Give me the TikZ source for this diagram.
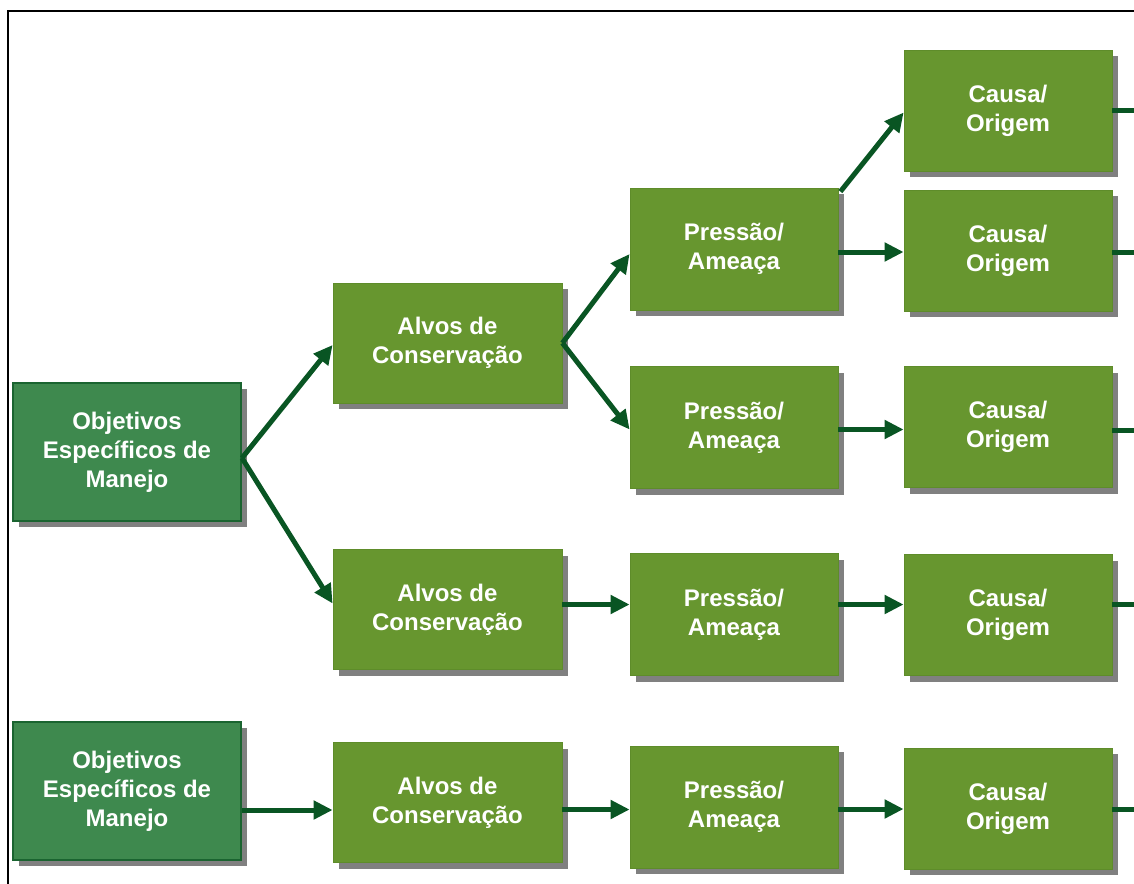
\documentclass[tikz,border=0pt]{standalone}
\usepackage{fontspec}
\setmainfont{Liberation Sans}
\usetikzlibrary{arrows.meta,shadows}
\definecolor{boxgreen}{HTML}{67962F}
\definecolor{boxedge}{HTML}{5E8C2A}
\definecolor{objgreen}{HTML}{3E894E}
\definecolor{objedge}{HTML}{1A6430}
\definecolor{arrowgreen}{HTML}{095523}
\definecolor{shadowgray}{HTML}{808080}
\tikzset{
  basebox/.style={rectangle, text=white, align=center, inner sep=0pt,
    font=\bfseries\fontsize{24}{29}\selectfont,
    drop shadow={shadow xshift=6pt, shadow yshift=-6pt, fill=shadowgray, opacity=1}},
  lbox/.style={basebox, fill=boxgreen, draw=boxedge, line width=0.8pt},
  objbox/.style={basebox, fill=objgreen, draw=objedge, line width=2pt,
    minimum width=228pt, minimum height=138pt},
  alvobox/.style={lbox, minimum width=229pt, minimum height=120pt},
  pbox/.style={lbox, minimum width=208pt, minimum height=122pt},
  cbox/.style={lbox, minimum width=208pt, minimum height=121pt},
  arr/.style={draw=arrowgreen, line width=5pt, -{Triangle[length=19pt,width=18pt]}},
  plainline/.style={draw=arrowgreen, line width=5pt},
  frameline/.style={draw=black, line width=2pt}
}
\begin{document}
\begin{tikzpicture}[x=1pt,y=-1pt]
\useasboundingbox (0,0) rectangle (1134,883);
\draw[frameline] (8,884) -- (8,11) -- (1135,11);
\coordinate (edge) at (1134,0);

% column 1
\node[objbox] (o1) at (127,452) {Objetivos\\Específicos de\\Manejo};
\node[objbox] (o2) at (127,791) {Objetivos\\Específicos de\\Manejo};

% column 2
\node[alvobox] (a1) at (447.5,343) {Alvos de\\Conservação};
\node[alvobox] (a2) at (447.5,609.5) {Alvos de\\Conservação};
\node[alvobox] (a3) at (447.5,802.5) {Alvos de\\Conservação};

% column 3
\node[pbox] (p1) at (734,249) {Pressão/\\Ameaça};
\node[pbox] (p2) at (734,427.5) {Pressão/\\Ameaça};
\node[pbox] (p3) at (734,614.5) {Pressão/\\Ameaça};
\node[pbox] (p4) at (734,807) {Pressão/\\Ameaça};

% column 4
\node[cbox] (c1) at (1008,110.5) {Causa/\\Origem};
\node[cbox] (c2) at (1008,250.5) {Causa/\\Origem};
\node[cbox] (c3) at (1008,427) {Causa/\\Origem};
\node[cbox] (c4) at (1008,615) {Causa/\\Origem};
\node[cbox] (c5) at (1008,808.5) {Causa/\\Origem};

% connectors
\draw[arr] ([yshift=-6pt]o1.east) -- ([yshift=-2pt]a1.west);
\draw[arr] ([yshift=-6pt]o1.east) -- ([yshift=6pt]a2.west);
\draw[arr] (a1.east) -- ([yshift=-5pt]p1.west);
\draw[arr] (a1.east) -- ([yshift=-2pt]p2.west);
\draw[arr] ([xshift=2pt,yshift=-4pt]p1.north east) -- ([yshift=-2pt]c1.west);
\draw[arr] ([yshift=-3pt]p1.east) -- ([yshift=-3pt]p1.east -| c2.west);
\draw[arr] ([yshift=-2pt]p2.east) -- ([yshift=-2pt]p2.east -| c3.west);
\draw[arr] ([yshift=5pt]a2.east) -- ([yshift=5pt]a2.east -| p3.west);
\draw[arr] ([yshift=10pt]p3.east) -- ([yshift=10pt]p3.east -| c4.west);
\draw[arr] ([yshift=-19pt]o2.east) -- ([yshift=-19pt]o2.east -| a3.west);
\draw[arr] ([yshift=-7pt]a3.east) -- ([yshift=-7pt]a3.east -| p4.west);
\draw[arr] ([yshift=-2pt]p4.east) -- ([yshift=-2pt]p4.east -| c5.west);

% outgoing lines to the cut edge
\draw[plainline] (c1.east) -- (c1.east -| edge);
\draw[plainline] ([yshift=-1.5pt]c2.east) -- ([yshift=-1.5pt]c2.east -| edge);
\draw[plainline] ([yshift=-3pt]c3.east) -- ([yshift=-3pt]c3.east -| edge);
\draw[plainline] ([yshift=11pt]c4.east) -- ([yshift=11pt]c4.east -| edge);
\draw[plainline] ([yshift=-0.5pt]c5.east) -- ([yshift=-0.5pt]c5.east -| edge);
\end{tikzpicture}
\end{document}
